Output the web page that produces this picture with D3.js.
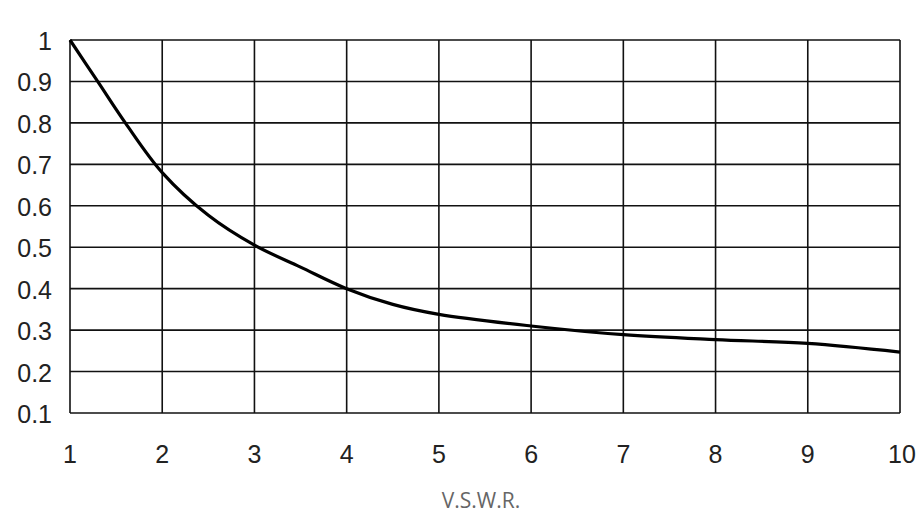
<!DOCTYPE html>
<html>
<head>
<meta charset="utf-8">
<script src="https://cdn.jsdelivr.net/npm/d3@7"></script>
<style>
  body { margin: 0; background: #fff; }
  svg { display: block; }
</style>
</head>
<body>
<div id="chart"></div>
<script>
// curve
const vswr = [1, 1.3, 1.6, 2, 2.5, 3, 3.5, 4, 4.5, 5, 6, 7, 8, 9, 10];
const factor = [1.0, 0.9, 0.8, 0.68, 0.577, 0.505, 0.452, 0.40, 0.362, 0.338, 0.31, 0.289, 0.277, 0.268, 0.247];

const xTicks = [1, 2, 3, 4, 5, 6, 7, 8, 9, 10];
const yTicks = [0.1, 0.2, 0.3, 0.4, 0.5, 0.6, 0.7, 0.8, 0.9, 1];
const xTitle = "V.S.W.R.";

const width = 916, height = 516;
const margin = { top: 40, right: 16, bottom: 103, left: 70 };

const svg = d3.select("#chart")
  .append("svg")
  .attr("width", width)
  .attr("height", height);

const x = d3.scaleLinear().domain([1, 10]).range([margin.left, width - margin.right]);
const y = d3.scaleLinear().domain([0.1, 1]).range([height - margin.bottom, margin.top]);

// grid
svg.append("g")
  .selectAll("line")
  .data(xTicks)
  .enter()
  .append("line")
  .attr("x1", (d) => x(d))
  .attr("x2", (d) => x(d))
  .attr("y1", y(1))
  .attr("y2", y(0.1))
  .style("stroke", "#111")
  .style("stroke-width", 1.6);

svg.append("g")
  .selectAll("line")
  .data(yTicks)
  .enter()
  .append("line")
  .attr("x1", x(1))
  .attr("x2", x(10))
  .attr("y1", (d) => y(d))
  .attr("y2", (d) => y(d))
  .style("stroke", "#111")
  .style("stroke-width", 1.6);

// tick labels
svg.append("g")
  .selectAll("text")
  .data(yTicks)
  .enter()
  .append("text")
  .attr("x", x(1) - 18)
  .attr("y", (d) => y(d) + 1)
  .attr("dy", "0.36em")
  .attr("text-anchor", "end")
  .style("font-family", "Liberation Sans, Arial, sans-serif")
  .style("font-size", "25px")
  .style("fill", "#222")
  .text((d) => d3.format("~g")(d));

svg.append("g")
  .selectAll("text")
  .data(xTicks)
  .enter()
  .append("text")
  .attr("x", (d) => (d === 10 ? x(d) + 2 : x(d)))
  .attr("y", 463)
  .attr("text-anchor", "middle")
  .style("font-family", "Liberation Sans, Arial, sans-serif")
  .style("font-size", "25px")
  .style("fill", "#222")
  .text((d) => d);

svg.append("text")
  .attr("x", 481)
  .attr("y", 508)
  .attr("text-anchor", "middle")
  .style("font-family", "Open Sans, Noto Sans, sans-serif")
  .style("font-size", "21px")
  .style("fill", "#666")
  .text(xTitle);

// curve
const line = d3.line()
  .x((d, i) => x(vswr[i]))
  .y((d) => y(d))
  .curve(d3.curveCatmullRom.alpha(0.5));

svg.append("path")
  .datum(factor)
  .attr("d", line)
  .style("fill", "none")
  .style("stroke", "#000")
  .style("stroke-width", 3.2);
</script>
</body>
</html>
